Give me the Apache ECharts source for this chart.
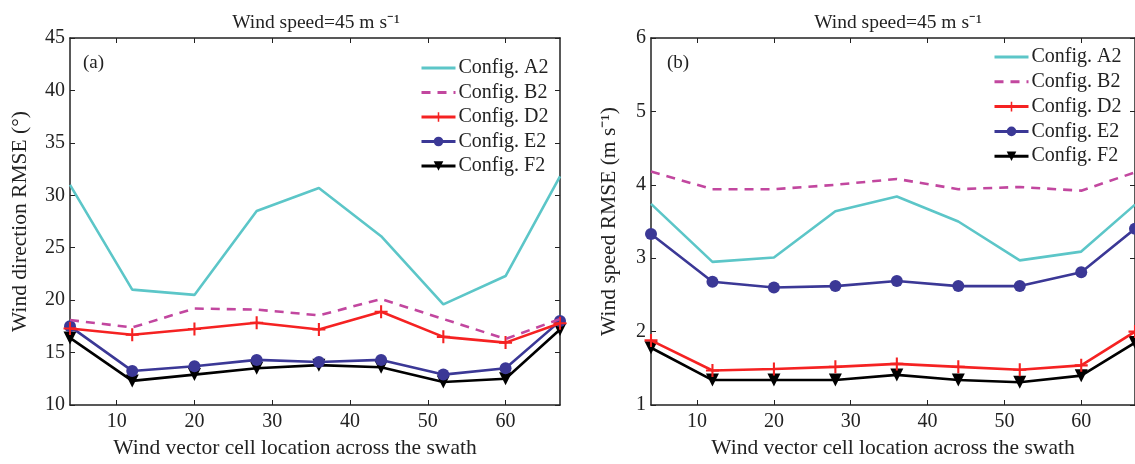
<!DOCTYPE html>
<html>
<head>
<meta charset="utf-8">
<script src="https://cdn.jsdelivr.net/npm/echarts@6/dist/echarts.min.js"></script>
<style>
  html, body { margin: 0; padding: 0; background: #fff; }
  #main { width: 1135px; height: 464px; }
</style>
</head>
<body>
<div id="main"></div>
<script>
// wind vector cell locations
const cells = [4, 12, 20, 28, 36, 44, 52, 60, 67];
const xTicks = [10, 20, 30, 40, 50, 60];
const names = ['Config. A2', 'Config. B2', 'Config. D2', 'Config. E2', 'Config. F2'];

// (a) wind direction RMSE (deg)
const dirA2 = [31.0, 21.0, 20.5, 28.5, 30.7, 26.1, 19.6, 22.3, 31.8];
const dirB2 = [18.1, 17.4, 19.2, 19.1, 18.55, 20.1, 18.2, 16.3, 18.2];
const dirD2 = [17.3, 16.7, 17.25, 17.85, 17.2, 18.9, 16.5, 15.95, 17.8];
const dirE2 = [17.5, 13.25, 13.7, 14.3, 14.1, 14.3, 12.9, 13.5, 18.0];
const dirF2 = [16.4, 12.3, 12.9, 13.5, 13.8, 13.6, 12.2, 12.5, 17.2];

// (b) wind speed RMSE (m/s)
const spdA2 = [3.74, 2.95, 3.01, 3.64, 3.84, 3.5, 2.97, 3.09, 3.73];
const spdB2 = [4.18, 3.94, 3.94, 4.0, 4.08, 3.94, 3.97, 3.92, 4.17];
const spdD2 = [1.88, 1.47, 1.49, 1.52, 1.56, 1.52, 1.48, 1.54, 2.0];
const spdE2 = [3.33, 2.68, 2.6, 2.62, 2.69, 2.62, 2.62, 2.81, 3.4];
const spdF2 = [1.78, 1.34, 1.34, 1.34, 1.41, 1.34, 1.31, 1.40, 1.85];

const font = 'Liberation Serif';
const ink = '#222';
const plus = 'path://M4.2,0H5.8V4.2H10V5.8H5.8V10H4.2V5.8H0V4.2H4.2Z';

const styles = [
  { color: '#5cc6c8', symbol: 'none', type: 'solid' },
  { color: '#c2479f', symbol: 'none', type: [9, 7] },
  { color: '#f52222', symbol: plus, size: 13, type: 'solid' },
  { color: '#3b3896', symbol: 'circle', size: 12, type: 'solid' },
  { color: '#000000', symbol: 'triangle', size: 13, rotate: 180, type: 'solid' }
];

function pair(ys) {
  return cells.map((x, i) => [x, ys[i]]);
}

function makeSeries(sets, gi) {
  return sets.map((ys, i) => {
    const s = styles[i];
    return {
      name: names[i],
      type: 'line',
      xAxisIndex: gi * 2,
      yAxisIndex: gi * 2,
      data: pair(ys),
      symbol: s.symbol,
      symbolSize: s.size || 0,
      symbolRotate: s.rotate || 0,
      showSymbol: s.symbol !== 'none',
      itemStyle: { color: s.color },
      lineStyle: { color: s.color, width: 2.6, type: s.type },
      z: 10 - i,
      animation: false
    };
  });
}

function xAxes(gi, shift) {
  const base = {
    type: 'value', gridIndex: gi, min: 4, max: 67,
    splitLine: { show: false },
    axisLine: { lineStyle: { color: ink, width: 1.5 } },
    axisTick: { inside: true, length: 5, customValues: xTicks, lineStyle: { color: ink } }
  };
  return [
    Object.assign({}, base, {
      position: 'bottom',
      name: 'Wind vector cell location across the swath',
      nameLocation: 'middle', nameGap: 32,
      nameTextStyle: { fontFamily: font, fontSize: 21.5, color: ink, padding: [0, shift, 0, 0] },
      axisLabel: { customValues: xTicks, fontFamily: font, fontSize: 20, color: ink, margin: 7 }
    }),
    Object.assign({}, base, { position: 'top', axisLabel: { show: false } })
  ];
}

function yAxes(gi, min, max, step, title, gap) {
  const base = {
    type: 'value', gridIndex: gi, min: min, max: max, interval: step,
    splitLine: { show: false },
    axisLine: { show: true, lineStyle: { color: ink, width: 1.5 } },
    axisTick: { show: true, inside: true, length: 5, lineStyle: { color: ink } }
  };
  return [
    Object.assign({}, base, {
      position: 'left',
      name: title, nameLocation: 'middle', nameGap: gap,
      nameTextStyle: { fontFamily: font, fontSize: 21.5, color: ink },
      axisLabel: { fontFamily: font, fontSize: 20, color: ink, margin: 5 }
    }),
    Object.assign({}, base, { position: 'right', axisLabel: { show: false } })
  ];
}

// plain lines (A2, B2): hide the marker, keep the line in the legend
function legend(left, top, gap) {
  return {
    orient: 'vertical', left: left, top: top, padding: 0,
    itemWidth: 34, itemHeight: 12, itemGap: gap,
    textStyle: { fontFamily: font, fontSize: 20, lineHeight: 20, color: ink, padding: [0, 0, 0, -2] },
    data: names.map((n, i) => {
      const s = styles[i];
      const item = { name: n, lineStyle: { color: s.color, width: 3, type: s.type, opacity: 1 } };
      if (s.symbol === 'none') item.itemStyle = { color: 'rgba(0,0,0,0)', borderWidth: 0 };
      return item;
    })
  };
}

const chart = echarts.init(document.getElementById('main'), null, { renderer: 'canvas' });
chart.setOption({
  backgroundColor: '#fff',
  animation: false,
  title: [
    { text: 'Wind speed=45 m s⁻¹', left: 311, top: 8, textAlign: 'center',
      textStyle: { fontFamily: font, fontSize: 19.5, fontWeight: 'normal', color: ink } },
    { text: 'Wind speed=45 m s⁻¹', left: 893, top: 8, textAlign: 'center',
      textStyle: { fontFamily: font, fontSize: 19.5, fontWeight: 'normal', color: ink } },
    { text: '(a)', left: 78, top: 49, textStyle: { fontFamily: font, fontSize: 19, fontWeight: 'normal', color: ink } },
    { text: '(b)', left: 662, top: 49, textStyle: { fontFamily: font, fontSize: 19, fontWeight: 'normal', color: ink } }
  ],
  legend: [legend(420, 58, 4.5), legend(993, 47, 4.8)],
  grid: [
    { left: 70, top: 38, width: 490, height: 368 },
    { left: 651, top: 38, width: 486, height: 368 }
  ],
  xAxis: xAxes(0, 40).concat(xAxes(1, 0)),
  yAxis: yAxes(0, 10, 45, 5, 'Wind direction RMSE (°)', 39)
    .concat(yAxes(1, 1, 6, 1, 'Wind speed RMSE (m s⁻¹)', 31)),
  series: makeSeries([dirA2, dirB2, dirD2, dirE2, dirF2], 0)
    .concat(makeSeries([spdA2, spdB2, spdD2, spdE2, spdF2], 1))
});
</script>
</body>
</html>
